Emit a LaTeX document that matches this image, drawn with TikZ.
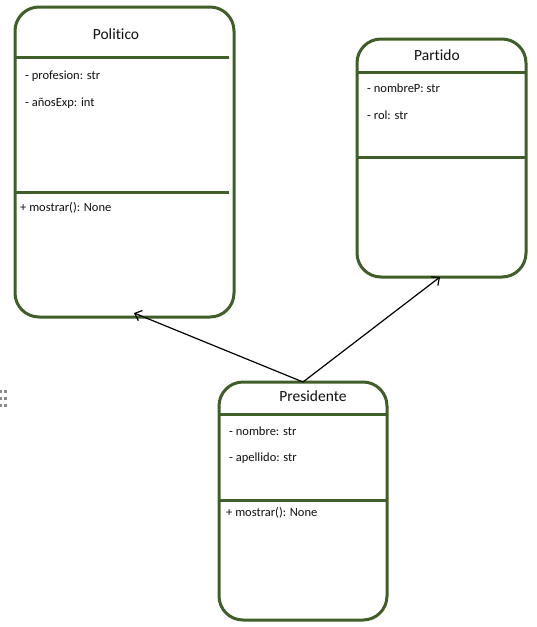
\documentclass[tikz,border=0pt]{standalone}
\usepackage{fontspec}
\setmainfont{Carlito}[Ligatures=NoCommon]
\usepackage{xcolor}
\usepackage{tikz}
\usetikzlibrary{arrows.meta}
\definecolor{frame}{HTML}{3F5E28}
\definecolor{ink}{HTML}{111111}
\definecolor{grip}{HTML}{8A8A8A}
\tikzset{
  classbox/.style={draw=frame, line width=3pt, rounded corners=24pt, fill=white,
    anchor=north west, inner sep=0pt, outer sep=0pt},
  sep/.style={draw=frame, line width=3pt},
  title/.style={text=ink, font=\fontsize{15.5}{18}\selectfont},
  attr/.style={text=ink, font=\fontsize{12.5}{15}\selectfont, anchor=west, inner sep=0pt},
  assoc/.style={-{Straight Barb[length=6pt,width=11pt]}, line width=1.2pt, draw=black},
  dot/.style={fill=grip, inner sep=0pt, minimum size=3pt}
}
\begin{document}
\begin{tikzpicture}[x=1pt, y=-1pt]
  \useasboundingbox (0,0) rectangle (536,627);

  % Classes
  \node[classbox, minimum width=219pt, minimum height=310pt] (pol) at (15,7) {};
  \node[classbox, minimum width=169pt, minimum height=238pt] (part) at (357,39) {};
  \node[classbox, minimum width=168pt, minimum height=238pt] (pres) at (219,382) {};

  % Compartments
  \draw[sep] (15,57) -- (229,57);
  \draw[sep] (15,192) -- (229,192);
  \draw[sep] (357,72) -- (526,72);
  \draw[sep] (357,157) -- (526,157);
  \draw[sep] (219,414) -- (387,414);
  \draw[sep] (219,500) -- (387,500);

  \node[title] (polName) at (116,34) {Politico};
  \node[attr] (polA1) at (25,76) {- profesion: str};
  \node[attr] (polA2) at (25,103) {- añosExp: int};
  \node[attr] (polM1) at (20,208) {+ mostrar(): None};

  \node[title] (partName) at (437,55) {Partido};
  \node[attr] (partA1) at (367,88) {- nombreP: str};
  \node[attr] (partA2) at (367,115) {- rol: str};

  \node[title] (presName) at (313,396) {Presidente};
  \node[attr] (presA1) at (229,431) {- nombre: str};
  \node[attr] (presA2) at (229,458) {- apellido: str};
  \node[attr] (presM1) at (226,513) {+ mostrar(): None};

  % Associations
  \coordinate (polTip) at (134,313);
  \coordinate (partTip) at (440,277);
  \draw[assoc] (pres.north) -- (polTip);
  \draw[assoc] (pres.north) -- (partTip);

  % Grip handle
  \foreach \gy in {391,398,405} {
    \node[dot] at (0,\gy) {};
    \node[dot] at (5,\gy) {};
  }
\end{tikzpicture}
\end{document}
